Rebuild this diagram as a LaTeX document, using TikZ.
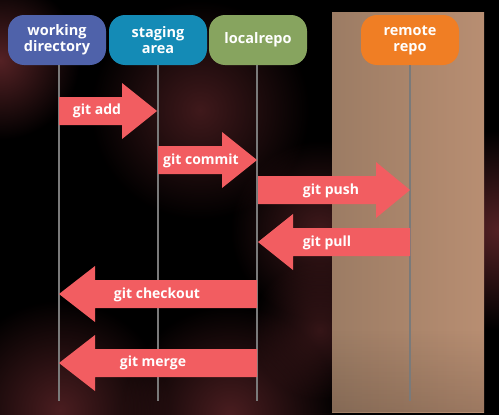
\documentclass[tikz,border=0pt]{standalone}
\usepackage{fontspec}
\setmainfont{Open Sans}
\usetikzlibrary{fadings}
\tikzfading[name=glowfade, inner color=transparent!0, outer color=transparent!100]
\definecolor{bgred}{HTML}{6A2A2E}
\definecolor{wdblue}{HTML}{4F62AA}
\definecolor{sablue}{HTML}{148BB6}
\definecolor{lrgreen}{HTML}{87A45F}
\definecolor{rrorange}{HTML}{F07E24}
\definecolor{arrred}{HTML}{F25D61}
\definecolor{panelL}{HTML}{9C7C64}
\definecolor{panelR}{HTML}{B88E72}
\definecolor{lifegray}{HTML}{7A7A7A}
\tikzset{
  stage/.style={rounded corners=16pt, minimum width=98pt, minimum height=50pt,
    text=white, font=\bfseries\fontsize{14.5}{16}\selectfont, align=center, inner sep=0pt},
  lifeline/.style={draw=lifegray, line width=1.2pt},
  cmdarrow/.style={fill=arrred},
  cmdlabel/.style={text=white, font=\bfseries\fontsize{14}{15}\selectfont, inner sep=0pt},
  glow/.style={path fading=glowfade}
}
\begin{document}
\begin{tikzpicture}[x=1pt,y=-1pt]
\useasboundingbox (0,0) rectangle (499,415);
\fill[black] (0,0) rectangle (499,415);
% background glows
\fill[bgred, glow, opacity=0.8] (0,60) circle (80);
\fill[bgred, glow, opacity=0.6] (200,110) circle (110);
\fill[bgred, glow, opacity=0.6] (320,230) circle (90);
\fill[bgred, glow, opacity=0.7] (60,410) circle (110);
\fill[bgred, glow, opacity=0.7] (230,415) circle (110);
\fill[bgred, glow, opacity=0.8] (499,230) circle (100);
\fill[bgred, glow, opacity=0.5] (320,330) circle (70);
% remote panel
\shade[left color=panelL, right color=panelR] (332,12) rectangle (484,412);
\fill[black, opacity=0.15, path fading=north] (332,330) rectangle (484,412);
% stage nodes
\node[stage, fill=wdblue] (wd) at (57,40) {working\\directory};
\node[stage, fill=sablue] (sa) at (158,40) {staging\\area};
\node[stage, fill=lrgreen] (lr) at (258,40) {localrepo};
\node[stage, fill=rrorange] (rr) at (410,40) {remote\\repo};
% lifelines
\coordinate (wdend) at (59,401);
\coordinate (saend) at (158,401);
\coordinate (lrend) at (257,401);
\coordinate (rrend) at (410,401);
\draw[lifeline] (wd.south -| wdend) -- (wdend);
\draw[lifeline] (sa.south -| saend) -- (saend);
\draw[lifeline] (lr.south -| lrend) -- (lrend);
\draw[lifeline] (rr.south -| rrend) -- (rrend);
% git add
\fill[cmdarrow] (59,97) -- (122,97) -- (122,83) -- (157,111) -- (122,139) -- (122,125) -- (59,125) -- cycle;
\node[cmdlabel] (add) at (97,111) {git add};
% git commit
\fill[cmdarrow] (158,146) -- (222,146) -- (222,132) -- (257,160) -- (222,188) -- (222,174) -- (158,174) -- cycle;
\node[cmdlabel] (commit) at (201,161) {git commit};
% git push
\fill[cmdarrow] (258,176) -- (376,176) -- (376,162) -- (410,190) -- (376,218) -- (376,204) -- (258,204) -- cycle;
\node[cmdlabel] (push) at (331,191) {git push};
% git pull
\fill[cmdarrow] (410,228) -- (293,228) -- (293,214) -- (258,242) -- (293,270) -- (293,256) -- (410,256) -- cycle;
\node[cmdlabel] (pull) at (327,243) {git pull};
% git checkout
\fill[cmdarrow] (257,280) -- (95,280) -- (95,266) -- (59,294) -- (95,322) -- (95,308) -- (257,308) -- cycle;
\node[cmdlabel] (checkout) at (157,295) {git checkout};
% git merge
\fill[cmdarrow] (257,349) -- (95,349) -- (95,335) -- (59,363) -- (95,391) -- (95,377) -- (257,377) -- cycle;
\node[cmdlabel] (merge) at (153,363) {git merge};
\end{tikzpicture}
\end{document}
